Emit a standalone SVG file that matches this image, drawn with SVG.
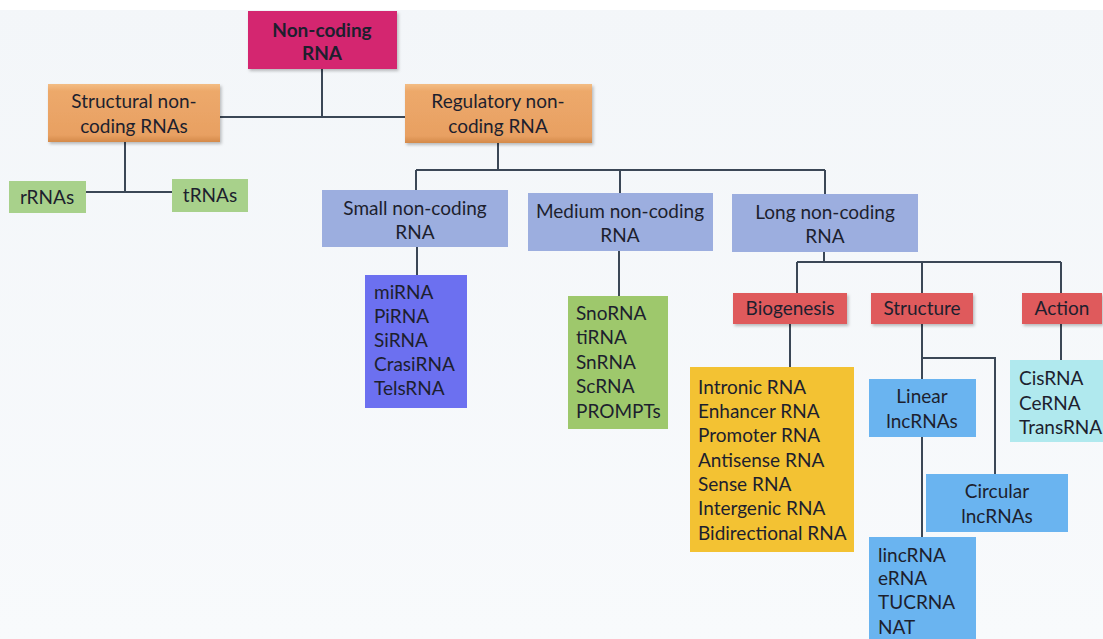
<svg xmlns="http://www.w3.org/2000/svg" width="1103" height="639" viewBox="0 0 1103 639">
<defs>
<linearGradient id="bg" x1="0" y1="0" x2="0" y2="1"><stop offset="0" stop-color="#f3f6f9"/><stop offset="1" stop-color="#f8fafc"/></linearGradient>
<linearGradient id="orange" x1="0" y1="0" x2="0" y2="1"><stop offset="0" stop-color="#f3bd84"/><stop offset="0.12" stop-color="#eda96b"/><stop offset="0.88" stop-color="#e8a062"/><stop offset="1" stop-color="#d48a4a"/></linearGradient>
<filter id="sh" x="-10%" y="-10%" width="125%" height="130%"><feDropShadow dx="1.5" dy="2" stdDeviation="1.5" flood-color="#000" flood-opacity="0.25"/></filter>
</defs>
<style>
text{font-family:Lato,"Open Sans","Liberation Sans",sans-serif;font-size:19px;fill:#1d1f2e}
.c{text-anchor:middle}
.b{font-weight:bold}
.ln{stroke:#3b4756;stroke-width:2;fill:none}
.box{filter:url(#sh)}
</style>
<rect width="1103" height="639" fill="url(#bg)"/>
<rect width="1103" height="10" fill="#ffffff"/>
<g id="connectors">
<path class="ln" d="M322 69V117M220 117H405"/>
<path class="ln" d="M125 142V192M86 192H172"/>
<path class="ln" d="M498 143V170M416 170H825M416 170V190M620 170V193M825 170V194"/>
<path class="ln" d="M417 247V275M619 251V296"/>
<path class="ln" d="M824 252V262M797 262H1061M797 262V293M922 262V293M1061 262V293"/>
<path class="ln" d="M790 324V367M922 324V379M922 358H995V474M1061 324V360M922 437V537"/>
</g>
<g id="n-root"><rect x="248" y="11" width="149" height="58" fill="#d4286f" class="box"/><text class="c b" x="322" y="37">Non-coding</text><text class="c b" x="322" y="60">RNA</text></g>
<g id="n-structural"><rect x="48" y="84" width="172" height="58" fill="url(#orange)" class="box"/><text class="c" x="134" y="108">Structural non-</text><text class="c" x="134" y="133">coding RNAs</text></g>
<g id="n-regulatory"><rect x="405" y="84" width="187" height="59" fill="url(#orange)" class="box"/><text class="c" x="498" y="108">Regulatory non-</text><text class="c" x="498" y="133">coding RNA</text></g>
<g id="n-rrna"><rect x="9" y="181" width="77" height="32" fill="#a8d18b"/><text class="c" x="47" y="204">rRNAs</text></g>
<g id="n-trna"><rect x="172" y="179" width="76" height="33" fill="#a8d18b"/><text class="c" x="210" y="202">tRNAs</text></g>
<g id="n-small"><rect x="322" y="190" width="186" height="57" fill="#9caedf"/><text class="c" x="415" y="215">Small non-coding</text><text class="c" x="415" y="239">RNA</text></g>
<g id="n-medium"><rect x="528" y="193" width="185" height="58" fill="#9caedf"/><text class="c" x="620" y="218">Medium non-coding</text><text class="c" x="620" y="242">RNA</text></g>
<g id="n-long"><rect x="732" y="194" width="186" height="58" fill="#9caedf"/><text class="c" x="825" y="219">Long non-coding</text><text class="c" x="825" y="243">RNA</text></g>
<g id="n-smalllist"><rect x="365" y="275" width="102" height="133" fill="#6c70f0"/><text x="374" y="299">miRNA</text><text x="374" y="323">PiRNA</text><text x="374" y="347">SiRNA</text><text x="374" y="371">CrasiRNA</text><text x="374" y="395">TelsRNA</text></g>
<g id="n-mediumlist"><rect x="568" y="296" width="100" height="133" fill="#9ec86c"/><text x="576" y="320">SnoRNA</text><text x="576" y="344">tiRNA</text><text x="576" y="369">SnRNA</text><text x="576" y="393">ScRNA</text><text x="576" y="418">PROMPTs</text></g>
<g id="n-biogenesis"><rect x="733" y="293" width="114" height="31" fill="#df5a5b" class="box"/><text class="c" x="790" y="315">Biogenesis</text></g>
<g id="n-structure"><rect x="871" y="293" width="102" height="31" fill="#df5a5b" class="box"/><text class="c" x="922" y="315">Structure</text></g>
<g id="n-action"><rect x="1022" y="293" width="80" height="31" fill="#df5a5b" class="box"/><text class="c" x="1062" y="315">Action</text></g>
<g id="n-biolist"><rect x="690" y="367" width="164" height="185" fill="#f3c233"/><text x="698" y="394">Intronic RNA</text><text x="698" y="418">Enhancer RNA</text><text x="698" y="442">Promoter RNA</text><text x="698" y="467">Antisense RNA</text><text x="698" y="491">Sense RNA</text><text x="698" y="515">Intergenic RNA</text><text x="698" y="540">Bidirectional RNA</text></g>
<g id="n-linear"><rect x="869" y="379" width="107" height="58" fill="#6ab4f0"/><text class="c" x="922" y="403">Linear</text><text class="c" x="922" y="428">lncRNAs</text></g>
<g id="n-circular"><rect x="926" y="474" width="142" height="58" fill="#6ab4f0"/><text class="c" x="997" y="498">Circular</text><text class="c" x="997" y="523">lncRNAs</text></g>
<g id="n-linearlist"><rect x="869" y="537" width="107" height="104" fill="#6ab4f0"/><text x="878" y="562">lincRNA</text><text x="878" y="585">eRNA</text><text x="878" y="609">TUCRNA</text><text x="878" y="634">NAT</text></g>
<g id="n-actionlist"><rect x="1010" y="360" width="95" height="82" fill="#b0e9ee"/><text x="1019" y="385">CisRNA</text><text x="1019" y="410">CeRNA</text><text x="1019" y="434">TransRNA</text></g>
</svg>
